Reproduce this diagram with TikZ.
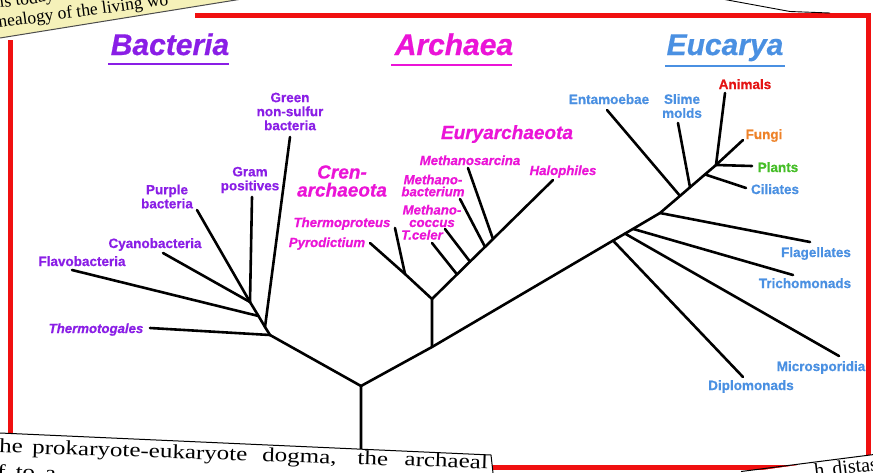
\documentclass[tikz,border=0pt]{standalone}
\usepackage{fontspec}
\setmainfont{Liberation Serif}
\setsansfont{Liberation Sans}[BoldFeatures={FakeBold=0.6},BoldItalicFeatures={FakeBold=0.6}]
\definecolor{bac}{RGB}{138,30,230}
\definecolor{arc}{RGB}{235,20,215}
\definecolor{euk}{RGB}{74,144,226}
\definecolor{anim}{RGB}{228,20,20}
\definecolor{fung}{RGB}{238,130,40}
\definecolor{plnt}{RGB}{70,190,40}
\definecolor{framered}{RGB}{240,16,16}
\definecolor{hilite}{RGB}{245,241,185}
\tikzset{
  branch/.style={line width=2.6pt, line cap=round, line join=round},
  lab/.style={font=\sffamily\bfseries\fontsize{13.5}{14}\selectfont, inner sep=0pt, align=center},
  ilab/.style={lab, font=\sffamily\bfseries\itshape\fontsize{13.2}{14}\selectfont},
  grp/.style={font=\sffamily\bfseries\itshape\fontsize{19}{18}\selectfont, inner sep=0pt, align=center},
  head/.style={font=\sffamily\bfseries\itshape\fontsize{30}{30}\selectfont, inner sep=0pt, anchor=base},
  uline/.style={line width=2.6pt},
  redframe/.style={draw=framered, line width=5pt},
  papertext/.style={font=\rmfamily\fontsize{20}{20}\selectfont, inner sep=0pt, anchor=base west},
  paperedge/.style={draw=black, line width=1pt},
}
\begin{document}
\begin{tikzpicture}[x=1pt,y=-1pt]
\useasboundingbox (0,0) rectangle (873,472);
\clip (0,0) rectangle (873,472);
\fill[white] (0,0) rectangle (873,472);

% ---------- tree coordinates ----------
\coordinate (root) at (361,462);
\coordinate (J0) at (361,386);
% bacteria
\coordinate (B0) at (270,335);
\coordinate (Bg) at (265,327);
\coordinate (Bf) at (258.5,316);
\coordinate (B1) at (250,302);
\coordinate (eThermo) at (150,328);
\coordinate (eGreen) at (290,137);
\coordinate (eFlavo) at (72,270);
\coordinate (eCyano) at (163,253);
\coordinate (ePurple) at (197,210);
\coordinate (eGram) at (252,197);
% archaea
\coordinate (J1) at (432,347);
\coordinate (A0) at (432,299);
\coordinate (C0) at (405,274);
\coordinate (ePyro) at (370,243);
\coordinate (eThp) at (395,228);
\coordinate (E1) at (457,274.4);
\coordinate (E2) at (470,261.6);
\coordinate (E3) at (485,246.9);
\coordinate (E4) at (493,239);
\coordinate (eHalo) at (553,180);
\coordinate (eTcel) at (432,243);
\coordinate (eMcoc) at (445,229);
\coordinate (eMbact) at (460,199);
\coordinate (eMsarc) at (468,168);
% eucarya
\coordinate (D1) at (613,240.6);
\coordinate (D2) at (625,233.6);
\coordinate (D3) at (633,228.9);
\coordinate (D4) at (660,213);
\coordinate (D5) at (680,195.9);
\coordinate (D6) at (690,187.3);
\coordinate (Kc) at (705,174.4);
\coordinate (K) at (716,165);
\coordinate (eDiplo) at (743,377);
\coordinate (eMicro) at (839,356);
\coordinate (eTricho) at (793,275);
\coordinate (eFlag) at (810,242);
\coordinate (eEnta) at (607,110);
\coordinate (eSlime) at (678,123);
\coordinate (eAnim) at (725,93);
\coordinate (eFungi) at (743,140);
\coordinate (ePlants) at (752,166);
\coordinate (eCil) at (746,188);

% ---------- branches ----------
\draw[branch] (root) -- (J0) -- (B0) -- (Bg) -- (Bf) -- (B1);
\draw[branch] (B0) -- (eThermo);
\draw[branch] (Bg) -- (eGreen);
\draw[branch] (Bf) -- (eFlavo);
\draw[branch] (B1) -- (eCyano);
\draw[branch] (B1) -- (ePurple);
\draw[branch] (B1) -- (eGram);

\draw[branch] (J0) -- (J1) -- (A0) -- (C0) -- (ePyro);
\draw[branch] (C0) -- (eThp);
\draw[branch] (A0) -- (E1) -- (E2) -- (E3) -- (E4) -- (eHalo);
\draw[branch] (E1) -- (eTcel);
\draw[branch] (E2) -- (eMcoc);
\draw[branch] (E3) -- (eMbact);
\draw[branch] (E4) -- (eMsarc);

\draw[branch] (J1) -- (D1) -- (D2) -- (D3) -- (D4) -- (D5) -- (D6) -- (Kc) -- (K);
\draw[branch] (D1) -- (eDiplo);
\draw[branch] (D2) -- (eMicro);
\draw[branch] (D3) -- (eTricho);
\draw[branch] (D4) -- (eFlag);
\draw[branch] (D5) -- (eEnta);
\draw[branch] (D6) -- (eSlime);
\draw[branch] (K) -- (eAnim);
\draw[branch] (K) -- (eFungi);
\draw[branch] (K) -- (ePlants);
\draw[branch] (Kc) -- (eCil);

% ---------- headings ----------
\node[head, text=bac] (hBac) at (170,55) {Bacteria};
\node[head, text=arc] (hArc) at (454,55) {Archaea};
\node[head, text=euk] (hEuk) at (725,55) {Eucarya};
\draw[uline, bac] (108,64) -- (229,64);
\draw[uline, arc] (391,65) -- (512,65);
\draw[uline, euk] (665,66) -- (785,66);

% ---------- bacteria labels ----------
\node[lab, text=bac] (lGreen) at (290,111.5) {Green\\non-sulfur\\bacteria};
\node[lab, text=bac] (lGram) at (250,180) {Gram\\positives};
\node[lab, text=bac] (lPurple) at (167,196.5) {Purple\\bacteria};
\node[lab, text=bac, anchor=base] (lCyano) at (155,248) {Cyanobacteria};
\node[lab, text=bac, anchor=base] (lFlavo) at (82,266) {Flavobacteria};
\node[ilab, text=bac, anchor=base] (lThermo) at (96,333) {Thermotogales};

% ---------- archaea labels ----------
\node[grp, text=arc] (lCren) at (342,181) {Cren-\\archaeota};
\node[grp, text=arc, anchor=base] (lEury) at (507,139) {Euryarchaeota};
\node[ilab, text=arc, anchor=base] (lMsarc) at (470,165) {Methanosarcina};
\node[ilab, text=arc] (lMbact) at (433,185.5) {Methano-\\[-2pt]bacterium};
\node[ilab, text=arc] (lMcoc) at (432,216) {Methano-\\[-1.5pt]coccus};
\node[ilab, text=arc, anchor=base] (lTcel) at (422,239.5) {T.celer};
\node[ilab, text=arc, anchor=base] (lThp) at (342,227) {Thermoproteus};
\node[ilab, text=arc, anchor=base] (lPyro) at (327,247) {Pyrodictium};
\node[ilab, text=arc, anchor=base] (lHalo) at (563,175) {Halophiles};

% ---------- eucarya labels ----------
\node[lab, text=euk, anchor=base] (lEnta) at (609,104) {Entamoebae};
\node[lab, text=euk] (lSlime) at (682,106) {Slime\\molds};
\node[lab, text=anim, anchor=base] (lAnim) at (745,89) {Animals};
\node[lab, text=fung, anchor=base] (lFungi) at (764,139) {Fungi};
\node[lab, text=plnt, anchor=base] (lPlants) at (778,172) {Plants};
\node[lab, text=euk, anchor=base] (lCil) at (775,194) {Ciliates};
\node[lab, text=euk, anchor=base] (lFlag) at (816,257) {Flagellates};
\node[lab, text=euk, anchor=base] (lTricho) at (805,288) {Trichomonads};
\node[lab, text=euk, anchor=base] (lMicro) at (821,371) {Microsporidia};
\node[lab, text=euk, anchor=base] (lDiplo) at (751,390) {Diplomonads};

% ---------- red frame ----------
\draw[redframe] (10,40) -- (10,467) -- (868,467) -- (868,15) -- (195,15);

% ---------- overlapping page fragments ----------
% top-left highlighted strip
\fill[hilite] (0,-1) -- (242,-1) -- (0,38) -- cycle;
\begin{scope}
  \clip (0,-1) -- (242,-1) -- (0,38) -- cycle;
  \node[papertext, font=\rmfamily\fontsize{17.5}{18}\selectfont, rotate=7.7] (tNeal) at (-1,28) {nealogy of the living wo};
  \node[papertext, font=\rmfamily\fontsize{17.5}{18}\selectfont, rotate=7.7] (tToday) at (0,8) {is today};
\end{scope}
\draw[paperedge, draw=black!70] (0,38) -- (242,-1);

% bottom-left page strip
\fill[white] (0,433) -- (491,455) -- (493,473) -- (0,473) -- cycle;
\begin{scope}
  \clip (0,433) -- (491,455) -- (493,473) -- (0,473) -- cycle;
  \node[papertext, rotate=-1.9] (tDogma) at (-1,452.5)
    {\scalebox{1.25}[1]{he\hspace{7.5pt}prokaryote-eukaryote\hspace{12pt}dogma,\hspace{16.8pt}the\hspace{13.2pt}archaeal}};
  \node[papertext, rotate=-1.9] (tSecond) at (-3,478)
    {\scalebox{1.25}[1]{f\hspace{8pt}to\hspace{8pt}a}};
\end{scope}
\draw[paperedge] (0,433) -- (491,455) -- (493,473);

% bottom-right page strip
\fill[white] (741,473) -- (874,454.5) -- (874,473) -- cycle;
\begin{scope}
  \clip (741,473) -- (874,454.5) -- (874,473) -- cycle;
  \node[papertext, rotate=6.6] (tDist) at (815,477.5) {h\hspace{8pt}distast};
\end{scope}
\draw[paperedge] (741,471.5) -- (874,454.5);

% top-right page edge
\draw[paperedge, line width=0.9pt] (722,-1) -- (790,11.5) -- (830,13);
\end{tikzpicture}
\end{document}
